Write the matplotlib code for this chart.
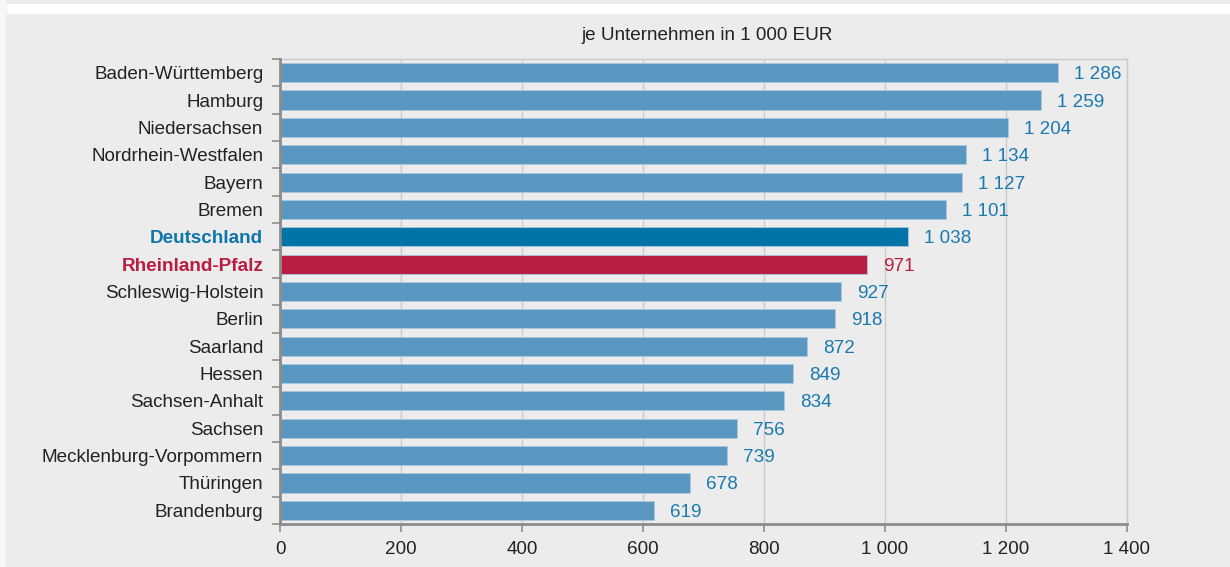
import matplotlib.pyplot as plt
from matplotlib.patches import Rectangle
from matplotlib.ticker import FixedLocator

# Daten: je Unternehmen in 1 000 EUR
laender = ["Baden-Württemberg", "Hamburg", "Niedersachsen", "Nordrhein-Westfalen",
           "Bayern", "Bremen", "Deutschland", "Rheinland-Pfalz", "Schleswig-Holstein",
           "Berlin", "Saarland", "Hessen", "Sachsen-Anhalt", "Sachsen",
           "Mecklenburg-Vorpommern", "Thüringen", "Brandenburg"]
werte = [1286, 1259, 1204, 1134, 1127, 1101, 1038, 971, 927, 918, 872, 849, 834,
         756, 739, 678, 619]
xticks = [0, 200, 400, 600, 800, 1000, 1200, 1400]

def fmt(v):
    # Tausendertrennzeichen als Leerzeichen
    return f"{v:,}".replace(",", " ")

plt.rcParams['font.family'] = ['Liberation Sans', 'DejaVu Sans']
fs = 13.55
grau = '#ececec'
farbe_normal = '#5b98c1'
farbe_de = '#0073a7'
farbe_rp = '#b91d41'
text_blau = '#1a7aae'
text_dunkel = '#222222'

fig = plt.figure(figsize=(12.3, 5.67), dpi=100, facecolor='#f7f7f7')
fig.patches.append(Rectangle((6/1230, 0), 1 - 6/1230, 1, transform=fig.transFigure,
                             facecolor=grau, edgecolor='none', zorder=-2))
fig.patches.append(Rectangle((7/1230, 1 - 14/567), 1, 10/567, transform=fig.transFigure,
                             facecolor='white', edgecolor='none', zorder=-1))

ax = fig.add_axes([280/1230, 1 - 524/567, (1126.7 - 280)/1230, (524 - 59)/567])
ax.set_facecolor(grau)

n = len(laender)
pos = list(range(n))
farben = []
for name in laender:
    if name == "Deutschland":
        farben.append(farbe_de)
    elif name == "Rheinland-Pfalz":
        farben.append(farbe_rp)
    else:
        farben.append(farbe_normal)

ax.barh(pos, werte, height=0.7, color=farben, edgecolor='#a9c8de', linewidth=0.6, zorder=3)
for name, i, v in zip(laender, pos, werte):
    if name == "Rheinland-Pfalz":
        c = farbe_rp
    else:
        c = text_blau
    ax.annotate(fmt(v), (v, i), xytext=(16, -2), textcoords='offset pixels',
                ha='left', va='center', fontsize=fs, color=c, zorder=4)

ax.set_ylim(n - 0.5, -0.5)
ax.set_xlim(0, 1400)

ax.set_yticks(pos)
ax.set_yticklabels(laender, fontsize=fs, color=text_dunkel)
for lbl in ax.get_yticklabels():
    if lbl.get_text() == "Deutschland":
        lbl.set_color('#0f76ab')
        lbl.set_fontweight('bold')
    elif lbl.get_text() == "Rheinland-Pfalz":
        lbl.set_color(farbe_rp)
        lbl.set_fontweight('bold')
ax.tick_params(axis='y', which='major', length=0, pad=12)
ax.yaxis.set_minor_locator(FixedLocator([p - 0.5 for p in range(n + 1)]))
ax.tick_params(axis='y', which='minor', length=6, width=1.2, color='#8c8c8c')

ax.set_xticks(xticks)
ax.set_xticklabels([fmt(x) for x in xticks], fontsize=fs, color=text_dunkel)
ax.tick_params(axis='x', length=6, width=1.2, color='#8c8c8c', pad=6)

ax.grid(axis='x', color='#cacaca', linewidth=1, zorder=0)
ax.set_axisbelow(True)
for s in ['left', 'bottom']:
    ax.spines[s].set_color('#8c8c8c')
    ax.spines[s].set_linewidth(2)
    ax.spines[s].set_zorder(5)
ax.spines['top'].set_color('#cacaca')
ax.spines['top'].set_linewidth(1)
ax.spines['right'].set_color('#cacaca')
ax.spines['right'].set_linewidth(1)

fig.text(707/1230, 1 - 35/567, "je Unternehmen in 1 000 EUR", ha='center', va='center',
         fontsize=fs, color=text_dunkel)

fig.savefig("out.png", dpi=100, facecolor=fig.get_facecolor())
